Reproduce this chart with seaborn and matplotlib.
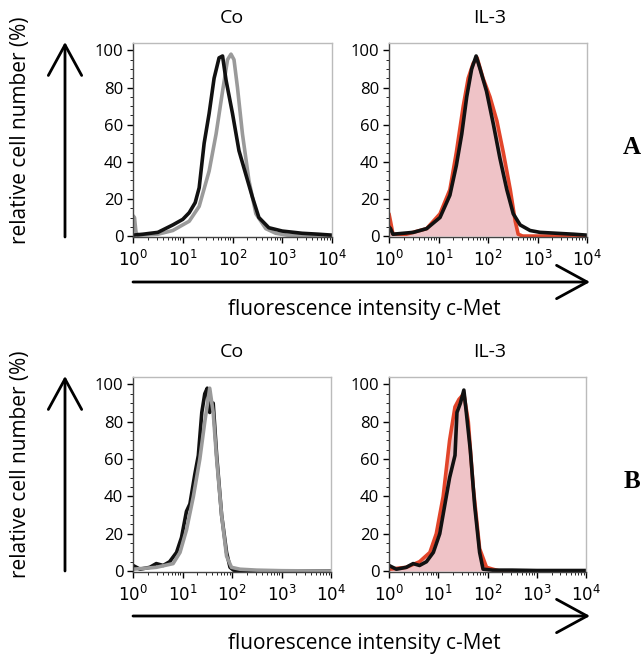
import numpy as np
import matplotlib
matplotlib.use("Agg")
import matplotlib.pyplot as plt
import seaborn as sns
from matplotlib.patches import FancyArrowPatch
from matplotlib.ticker import FixedLocator, MultipleLocator

sns.set_style("white")
plt.rcParams['font.family'] = ['Open Sans', 'DejaVu Sans']
plt.rcParams['text.color'] = 'black'
plt.rcParams['xtick.color'] = 'black'
plt.rcParams['ytick.color'] = 'black'

# ---- data (x as log10 intensity, y as % of max) ----
# panel A, Co
a_co_black_x = [0.0, 0.2, 0.5, 0.8, 1.0, 1.13, 1.25, 1.33, 1.43, 1.53, 1.63, 1.73, 1.8, 1.87,
                2.0, 2.13, 2.27, 2.4, 2.53, 2.73, 3.0, 3.4, 3.73, 4.0]
a_co_black_y = [0.5, 1, 2, 6, 9, 12.6, 18, 26, 50, 66, 85, 96, 97, 84,
                66, 46, 33, 21, 10, 4.5, 2.7, 1.5, 1, 0.5]
a_co_gray_x = [0.0, 0.03, 0.06, 0.1, 0.5, 0.8, 1.13, 1.33, 1.53, 1.67, 1.8, 1.9, 1.97,
               2.03, 2.1, 2.2, 2.33, 2.47, 2.67, 2.87, 3.1, 3.5, 4.0]
a_co_gray_y = [11, 10, 2, 0.5, 1, 3, 8, 16, 35, 55, 78, 95, 98,
               95, 80, 55, 30, 12, 4, 1.5, 0.5, 0.2, 0]

# panel A, IL-3
a_il_black_x = [0.0, 0.03, 0.08, 0.49, 0.76, 1.03, 1.23, 1.36, 1.47, 1.57, 1.67, 1.76, 1.84,
                1.97, 2.11, 2.24, 2.38, 2.51, 2.65, 2.85, 3.05, 3.39, 3.73, 4.0]
a_il_black_y = [5, 4, 1, 2, 4, 10, 22, 38, 55, 75, 90, 97, 90,
                78, 60, 42, 25, 12, 6, 3, 2, 1.5, 1, 0.5]
a_il_red_x = [0.0, 0.03, 0.08, 0.35, 0.76, 1.03, 1.23, 1.36, 1.5, 1.6, 1.7, 1.78, 1.9,
              2.04, 2.18, 2.31, 2.45, 2.55, 2.61, 2.7, 3.0, 4.0]
a_il_red_y = [12, 8, 1, 1, 4, 12, 25, 45, 70, 85, 93, 96, 85,
              75, 62, 45, 25, 8, 1, 0, 0, 0]

# panel B, Co
b_co_black_x = [0.0, 0.14, 0.34, 0.47, 0.61, 0.74, 0.88, 0.98, 1.08, 1.15, 1.25, 1.32, 1.39,
                1.45, 1.5, 1.55, 1.62, 1.69, 1.79, 1.89, 1.96, 2.03, 2.5, 4.0]
b_co_black_y = [3, 1, 2, 4, 3, 5, 10, 18, 32, 36, 52, 62, 85,
                95, 98, 85, 90, 62, 30, 10, 2, 0.5, 0, 0]
b_co_gray_x = [0.0, 0.47, 0.81, 0.95, 1.08, 1.22, 1.35, 1.45, 1.55, 1.62, 1.69, 1.79, 1.89,
               1.99, 2.16, 2.5, 3.0, 4.0]
b_co_gray_y = [1, 2, 4, 10, 22, 40, 60, 80, 98, 85, 60, 30, 8,
               2, 1, 0.5, 0.2, 0]

# panel B, IL-3
b_il_black_x = [0.0, 0.15, 0.35, 0.49, 0.62, 0.76, 0.9, 1.03, 1.13, 1.23, 1.34, 1.38, 1.45,
                1.52, 1.57, 1.65, 1.74, 1.84, 1.91, 2.1, 2.5, 3.0, 4.0]
b_il_black_y = [3, 1, 2, 4, 3, 5, 10, 20, 35, 50, 62, 85, 90,
                97, 85, 65, 35, 10, 1, 0.5, 0.5, 0.3, 0.3]
b_il_red_x = [0.0, 0.35, 0.62, 0.83, 0.96, 1.1, 1.23, 1.34, 1.42, 1.52, 1.61, 1.71, 1.84,
              1.98, 2.11, 2.25, 4.0]
b_il_red_y = [1, 2, 5, 10, 20, 40, 70, 88, 92, 95, 80, 45, 12,
              2, 1, 0, 0]

col_labels = ["Co", "IL-3"]
row_labels = ["A", "B"]
xtick_vals = [1, 10, 100, 1000, 10000]
xtick_text = ["$10^0$", "$10^1$", "$10^2$", "$10^3$", "$10^4$"]
ytick_vals = [0, 20, 40, 60, 80, 100]

black = "#111111"
gray = "#9a9a9a"
red = "#e2452a"
pink = "#efc3c7"

W, H = 644, 655
fig = plt.figure(figsize=(W / 100, H / 100), dpi=100)


def px_axes(left, top, right, bottom):
    return fig.add_axes([left / W, 1 - bottom / H, (right - left) / W, (bottom - top) / H])


def style(ax):
    ax.set_xscale("log")
    ax.set_xlim(1, 10000)
    ax.set_ylim(-0.5, 104)
    ax.xaxis.set_major_locator(FixedLocator(xtick_vals))
    ax.set_xticklabels(xtick_text)
    minor = [m * 10 ** d for d in range(4) for m in range(2, 10)]
    ax.xaxis.set_minor_locator(FixedLocator(minor))
    ax.set_yticks(ytick_vals)
    ax.yaxis.set_minor_locator(MultipleLocator(5))
    ax.tick_params(which="major", direction="out", length=4, width=1, labelsize=12,
                   left=True, bottom=True)
    ax.tick_params(axis="x", which="major", pad=5)
    ax.tick_params(axis="y", which="major", pad=3)
    ax.tick_params(which="minor", direction="out", length=2, width=0.6,
                   left=True, bottom=True)
    for s in ["left", "bottom"]:
        ax.spines[s].set_color("#444444")
        ax.spines[s].set_linewidth(1)
    for s in ["top", "right"]:
        ax.spines[s].set_color("#bbbbbb")
        ax.spines[s].set_linewidth(1)
    ax.set_xlabel("")
    ax.set_ylabel("")


def curve(ax, xs, ys, color, lw=2.6, fill=None):
    xv = 10 ** np.array(xs)
    if fill is not None:
        ax.fill_between(xv, ys, 0, color=fill, lw=0)
    sns.lineplot(x=xv, y=ys, ax=ax, color=color, lw=lw, sort=False)


# axes boxes in picture pixels (left, top, right, bottom)
boxes = {
    ("A", "Co"): (133, 43, 332, 237),
    ("A", "IL-3"): (389, 43, 587, 237),
    ("B", "Co"): (133, 377, 331, 572),
    ("B", "IL-3"): (389, 377, 586, 572),
}

ax = px_axes(*boxes[("A", "Co")])
curve(ax, a_co_gray_x, a_co_gray_y, gray)
curve(ax, a_co_black_x, a_co_black_y, black)
style(ax)

ax = px_axes(*boxes[("A", "IL-3")])
curve(ax, a_il_red_x, a_il_red_y, red, fill=pink)
curve(ax, a_il_black_x, a_il_black_y, black)
style(ax)

ax = px_axes(*boxes[("B", "Co")])
curve(ax, b_co_black_x, b_co_black_y, black)
curve(ax, b_co_gray_x, b_co_gray_y, gray)
style(ax)

ax = px_axes(*boxes[("B", "IL-3")])
curve(ax, b_il_red_x, b_il_red_y, red, fill=pink)
curve(ax, b_il_black_x, b_il_black_y, black)
style(ax)


def arrow(x0, y0, x1, y1):
    a = FancyArrowPatch((x0, H - y0), (x1, H - y1), transform=None,
                        arrowstyle="->,head_length=1.1,head_width=0.6",
                        mutation_scale=20, lw=2, color="black",
                        shrinkA=0, shrinkB=0)
    fig.add_artist(a)


for row, top in zip(row_labels, [0, 334]):
    for col, cx in zip(col_labels, [232, 490]):
        fig.text(cx / W, 1 - (18 + top) / H, col, ha="center", va="center", fontsize=14)
    arrow(65, 237 + top, 65, 42 + top)
    arrow(133, 282 + top, 590, 282 + top)
    fig.text(21 / W, 1 - (130 + top) / H, "relative cell number (%)", rotation=90,
             ha="center", va="center", fontsize=15)
    fig.text(364 / W, 1 - (310 + top) / H, "fluorescence intensity c-Met",
             ha="center", va="center", fontsize=15)
    fig.text(632 / W, 1 - (148 + top) / H, row, ha="center", va="center",
             fontsize=18, fontweight="bold", family="Liberation Serif")

fig.savefig("out.png", dpi=100)
